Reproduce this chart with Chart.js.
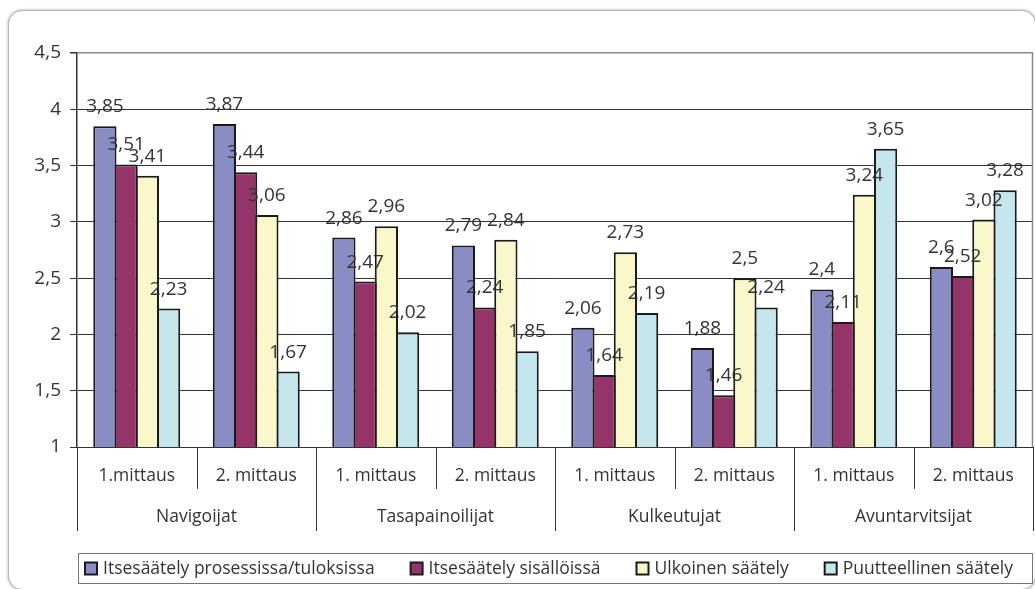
<!DOCTYPE html>
<html>
<head>
<meta charset="utf-8">
<script src="https://cdn.jsdelivr.net/npm/chart.js@4.4.1/dist/chart.umd.min.js"></script>
<style>
  html, body { margin: 0; padding: 0; background: #fff; width: 1035px; height: 589px; overflow: hidden; }
  .frame {
    position: absolute; left: 8px; top: 10px; width: 1026px; height: 578px;
    border: 1px solid #b4b4b4; border-radius: 14px;
    box-shadow: 0 0 3px rgba(0,0,0,0.35); background: #fff;
  }
  #chart { position: absolute; left: 0; top: 0; }
</style>
</head>
<body>
<div class="frame"></div>
<canvas id="chart" width="1035" height="589"></canvas>
<script>
const groups = ["Navigoijat", "Tasapainoilijat", "Kulkeutujat", "Avuntarvitsijat"];
const measurements = ["1.mittaus", "2. mittaus", "1. mittaus", "2. mittaus", "1. mittaus", "2. mittaus", "1. mittaus", "2. mittaus"];
const seriesNames = ["Itsesäätely prosessissa/tuloksissa", "Itsesäätely sisällöissä", "Ulkoinen säätely", "Puutteellinen säätely"];
const prosessi = [3.85, 3.87, 2.86, 2.79, 2.06, 1.88, 2.4, 2.6];
const sisalto = [3.51, 3.44, 2.47, 2.24, 1.64, 1.46, 2.11, 2.52];
const ulkoinen = [3.41, 3.06, 2.96, 2.84, 2.73, 2.5, 3.24, 3.02];
const puutteellinen = [2.23, 1.67, 2.02, 1.85, 2.19, 2.24, 3.65, 3.28];
const yTicks = [1, 1.5, 2, 2.5, 3, 3.5, 4, 4.5];
const colors = ["#898dc4", "#953468", "#faf8ca", "#c4e6ec"];

const textColor = "#333";
const fontFamily = "'Open Sans', sans-serif";
const fmt = v => String(v).replace(".", ",");

// value labels above every bar
const valueLabels = {
  id: "valueLabels",
  afterDatasetsDraw(chart) {
    const ctx = chart.ctx;
    ctx.save();
    ctx.font = "19px " + fontFamily;
    ctx.fillStyle = textColor;
    ctx.textAlign = "center";
    ctx.textBaseline = "alphabetic";
    chart.data.datasets.forEach((ds, di) => {
      chart.getDatasetMeta(di).data.forEach((bar, i) => {
        ctx.fillText(fmt(ds.data[i]), bar.x, bar.y - 14);
      });
    });
    ctx.restore();
  }
};

// two-level category axis, plot frame and boxed legend
const frameAndAxis = {
  id: "frameAndAxis",
  afterDraw(chart) {
    const ctx = chart.ctx;
    const a = chart.chartArea;
    const x = chart.scales.x;
    const n = measurements.length;
    const centers = measurements.map((m, i) => x.getPixelForValue(i));
    const edge = i => i === 0 ? a.left : i === n ? a.right : (centers[i - 1] + centers[i]) / 2;

    ctx.save();
    // right border of the plot
    ctx.strokeStyle = "#8a8a8a";
    ctx.lineWidth = 1.5;
    ctx.beginPath();
    ctx.moveTo(a.right - 0.5, a.top);
    ctx.lineTo(a.right - 0.5, a.bottom);
    ctx.stroke();

    // separators
    ctx.strokeStyle = "#333";
    ctx.lineWidth = 1;
    for (let i = 0; i <= n; i++) {
      const px = Math.round(edge(i)) + 0.5;
      ctx.beginPath();
      ctx.moveTo(px, a.bottom);
      ctx.lineTo(px, i % 2 === 0 ? a.bottom + 84 : a.bottom + 42);
      ctx.stroke();
    }

    ctx.fillStyle = textColor;
    ctx.font = "17.5px " + fontFamily;
    ctx.textAlign = "center";
    ctx.textBaseline = "middle";
    measurements.forEach((m, i) => ctx.fillText(m, centers[i], a.bottom + 29));
    groups.forEach((g, gi) => {
      const cx = (edge(gi * 2) + edge(gi * 2 + 2)) / 2;
      ctx.fillText(g, cx, a.bottom + 70);
    });

    // legend
    const top = 553, bottom = 583;
    ctx.strokeStyle = "#777";
    ctx.strokeRect(a.left + 1.5, top + 0.5, a.right - a.left - 2, bottom - top);
    ctx.textAlign = "left";
    let lx = a.left + 8;
    const ly = (top + bottom) / 2 + 1;
    chart.data.datasets.forEach((ds, di) => {
      ctx.fillStyle = ds.backgroundColor;
      ctx.fillRect(lx, ly - 6.5, 12, 12);
      ctx.strokeStyle = "#1a1a1a";
      ctx.lineWidth = 2;
      ctx.strokeRect(lx, ly - 6.5, 12, 12);
      ctx.fillStyle = textColor;
      ctx.fillText(ds.label, lx + 18, ly);
      lx += 18 + ctx.measureText(ds.label).width + 36;
    });
    ctx.restore();
  }
};

const series = [prosessi, sisalto, ulkoinen, puutteellinen];

new Chart(document.getElementById("chart"), {
  type: "bar",
  data: {
    labels: measurements,
    datasets: series.map((d, i) => ({
      label: seriesNames[i],
      data: d,
      backgroundColor: colors[i],
      borderColor: "#1a1a1a",
      borderWidth: 2,
      borderSkipped: "bottom",
    })),
  },
  options: {
    responsive: false,
    animation: false,
    devicePixelRatio: 1,
    // bars overlap by their border width so neighbours share one edge
    categoryPercentage: 0.711,
    barPercentage: 1.094,
    layout: { padding: { left: 0, top: 53, right: 2, bottom: 142 } },
    plugins: {
      legend: { display: false },
      tooltip: { enabled: false },
    },
    scales: {
      x: { display: false },
      y: {
        min: 1,
        max: 4.5,
        afterFit(scale) { scale.width = 77; },
        afterBuildTicks(scale) { scale.ticks = yTicks.map(v => ({ value: v })); },
        ticks: {
          color: textColor,
          font: { family: fontFamily, size: 19 },
          padding: 9,
          callback: v => fmt(v),
        },
        grid: {
          color: c => c.tick && c.tick.value === 4.5 ? "#8a8a8a" : "#333",
          lineWidth: c => c.tick && c.tick.value === 4.5 ? 1.5 : 1,
          tickLength: 7,
          tickColor: "#333",
        },
        border: { color: "#333", width: 1.5 },
      },
    },
  },
  plugins: [valueLabels, frameAndAxis],
});
</script>
</body>
</html>
